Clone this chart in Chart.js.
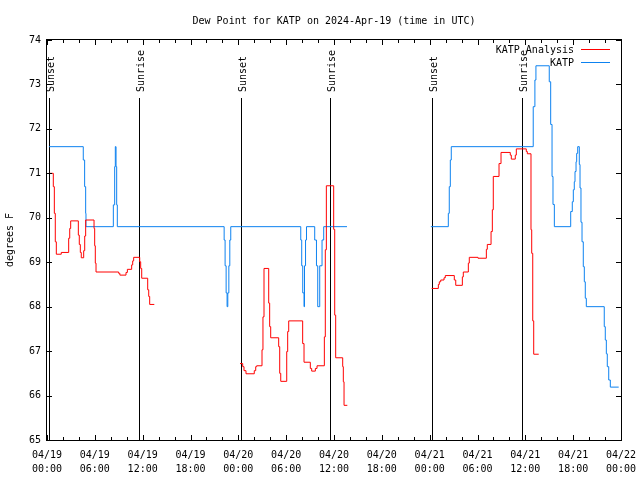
<!DOCTYPE html>
<html>
<head>
<meta charset="utf-8">
<script src="https://cdn.jsdelivr.net/npm/chart.js@4.4.1/dist/chart.umd.min.js"></script>
<style>
  html, body { margin: 0; padding: 0; background: #fff; }
</style>
</head>
<body>
<canvas id="chart" width="640" height="480"></canvas>
<script>
// chart data (x = hours since 04/19 00:00 UTC)
const titleText = 'Dew Point for KATP on 2024-Apr-19 (time in UTC)';
const yTitle = 'degrees F';
const xTickLabels = [
  ['04/19', '00:00'], ['04/19', '06:00'], ['04/19', '12:00'], ['04/19', '18:00'],
  ['04/20', '00:00'], ['04/20', '06:00'], ['04/20', '12:00'], ['04/20', '18:00'],
  ['04/21', '00:00'], ['04/21', '06:00'], ['04/21', '12:00'], ['04/21', '18:00'],
  ['04/22', '00:00']
];
const sunLabels = ['Sunset', 'Sunrise', 'Sunset', 'Sunrise', 'Sunset', 'Sunrise'];
const sunHours = [0.29, 11.58, 24.37, 35.54, 48.33, 59.62];

const analysisHours = [
  0.29, 0.79, 0.92, 1.04, 1.17, 1.79, 2.72, 2.85, 2.97, 3.93, 4.05, 4.18, 4.3, 4.6, 4.73, 4.85,
  5.9, 5.98, 6.06, 6.15, 8.99, 9.14, 9.91, 10.08, 10.62, 10.75, 10.87, 11.63, 11.75, 11.88,
  12.63, 12.76, 12.88, 13.46, 14,
  24.21, 24.55, 24.71, 24.96, 26.0, 26.18, 26.3, 26.97, 27.09, 27.22, 27.81, 27.93, 28.06,
  29.06, 29.19, 29.32, 30.07, 30.19, 30.32, 32.07, 32.24, 33.03, 33.2, 33.66, 33.87, 34.79,
  34.91, 35.04, 35.96, 36.09, 36.21, 37.09, 37.17, 37.26, 37.67, 38,
  48.25, 49.09, 49.21, 49.39, 49.8, 49.96, 51.09, 51.27, 52.1, 52.22, 52.85, 52.97, 54.06,
  55.11, 55.23, 55.7, 55.86, 55.98, 56.7, 56.95, 58.11, 58.24, 58.74, 58.87, 60.12, 60.25,
  60.71, 60.8, 60.93, 61.05, 61.68
];
const analysisValues = [
  71.0, 70.7, 70.1, 69.46, 69.18, 69.22, 69.54, 69.76, 69.93, 69.61, 69.4, 69.22, 69.1, 69.26, 69.59, 69.95,
  69.76, 69.37, 68.98, 68.78, 68.75, 68.71, 68.77, 68.84, 68.94, 69.03, 69.11, 69.01, 68.86, 68.64,
  68.38, 68.23, 68.05, 68.05, null,
  66.72, 66.65, 66.56, 66.49, 66.56, 66.65, 66.67, 67.03, 67.77, 68.86, 68.08, 67.55, 67.3,
  67.1, 66.5, 66.32, 66.99, 67.44, 67.68, 67.17, 66.75, 66.61, 66.55, 66.61, 66.67, 67.32,
  69.28, 70.72, 69.74, 67.81, 66.85, 66.65, 66.31, 65.78, 65.78, null,
  68.41, 68.5, 68.56, 68.6, 68.65, 68.7, 68.6, 68.48, 68.67, 68.78, 68.98, 69.11, 69.09,
  69.29, 69.4, 69.69, 70.18, 70.93, 71.22, 71.47, 71.41, 71.32, 71.41, 71.55, 71.49, 71.44,
  69.73, 69.2, 67.68, 66.93, 66.93
];

const katpHours = [
  0.25, 4.55, 4.72, 4.85, 4.89, 8.32, 8.49, 8.57, 8.66, 8.74, 8.82,
  22.22, 22.34, 22.47, 22.59, 22.68, 22.81, 22.93, 23.05,
  31.83, 31.95, 32.08, 32.24, 32.3, 32.43, 32.55,
  33.58, 33.8, 33.96, 34.21, 34.5, 34.71, 37.63, 38,
  48.15, 50.34, 50.46, 50.59, 50.71, 60.99, 61.2, 61.33, 63.0, 63.18, 63.35, 63.47, 63.64,
  65.69, 65.89, 66.02, 66.14, 66.23, 66.36, 66.44, 66.57, 66.77, 66.86, 66.98, 67.11, 67.27,
  67.4, 67.52, 67.65, 69.9, 70.03, 70.16, 70.28, 70.46, 70.66, 71.71
];
const katpValues = [
  71.6, 71.3, 70.7, 70.1, 69.8, 70.29, 71.15, 71.6, 71.15, 70.29, 69.8,
  69.5, 68.92, 68.31, 68.0, 68.31, 68.92, 69.5, 69.8,
  69.5, 68.92, 68.31, 68.0, 68.92, 69.5, 69.8,
  69.5, 68.92, 68.0, 68.92, 69.5, 69.8, 69.8, null,
  69.8, 70.1, 70.7, 71.3, 71.6, 72.5, 73.1, 73.42, 73.06, 72.1, 70.93, 70.3, 69.8,
  70.14, 70.36, 70.63, 70.81, 71.04, 71.26, 71.45, 71.6, 71.2, 70.67, 69.9, 69.46, 68.9,
  68.56, 68.19, 68.0, 67.55, 67.25, 66.94, 66.65, 66.35, 66.19, 66.19
];

const FONT = '"DejaVu Sans Mono", "Liberation Mono", monospace';
const RED = '#ff0000';
const BLUE = '#0d82f0';

function toPoints(hours, values) {
  return hours.map((h, i) => ({ x: h, y: values[i] }));
}

const decorPlugin = {
  id: 'decor',
  beforeDatasetsDraw(chart) {
    const { ctx, chartArea: a, scales: { x } } = chart;
    ctx.save();
    ctx.strokeStyle = '#000';
    ctx.fillStyle = '#000';
    ctx.lineWidth = 1;
    ctx.font = '10px ' + FONT;
    sunHours.forEach((h, i) => {
      const px = Math.round(x.getPixelForValue(h)) + 0.5;
      ctx.beginPath();
      ctx.moveTo(px, a.top + 58);
      ctx.lineTo(px, a.bottom);
      ctx.stroke();
      ctx.save();
      ctx.translate(px + 2, a.top + 52);
      ctx.rotate(-Math.PI / 2);
      ctx.textAlign = 'left';
      ctx.textBaseline = 'middle';
      ctx.fillText(sunLabels[i], 0, 0);
      ctx.restore();
    });
    ctx.restore();
  },
  afterDraw(chart) {
    const { ctx, chartArea: a, scales: { x, y } } = chart;
    ctx.save();
    ctx.strokeStyle = '#000';
    ctx.fillStyle = '#000';
    ctx.lineWidth = 1;

    // border
    ctx.strokeRect(a.left - 0.5, a.top - 0.5, a.right - a.left + 1, a.bottom - a.top + 1);

    // inward ticks, mirrored
    ctx.beginPath();
    for (let v = 65; v <= 74; v++) {
      const py = Math.round(y.getPixelForValue(v)) + 0.5;
      ctx.moveTo(a.left, py); ctx.lineTo(a.left + 5, py);
      ctx.moveTo(a.right, py); ctx.lineTo(a.right - 5, py);
    }
    for (let h = 0; h <= 72; h += 2) {
      const px = Math.round(x.getPixelForValue(h)) + 0.5;
      const len = h % 6 === 0 ? 5 : 3;
      ctx.moveTo(px, a.bottom); ctx.lineTo(px, a.bottom - len);
      ctx.moveTo(px, a.top); ctx.lineTo(px, a.top + len);
    }
    ctx.stroke();

    ctx.font = '10px ' + FONT;
    // title
    ctx.textAlign = 'center';
    ctx.textBaseline = 'middle';
    ctx.fillText(titleText, (a.left + a.right) / 2, 21);

    // y axis title
    ctx.save();
    ctx.translate(10, (a.top + a.bottom) / 2);
    ctx.rotate(-Math.PI / 2);
    ctx.fillText(yTitle, 0, 0);
    ctx.restore();

    // legend
    const items = [['KATP Analysis', RED], ['KATP', BLUE]];
    items.forEach(([label, color], i) => {
      const ly = a.top + 10 + i * 13;
      ctx.fillStyle = '#000';
      ctx.textAlign = 'right';
      ctx.fillText(label, a.right - 47, ly);
      ctx.strokeStyle = color;
      ctx.beginPath();
      ctx.moveTo(a.right - 40, Math.round(ly) - 0.5);
      ctx.lineTo(a.right - 11, Math.round(ly) - 0.5);
      ctx.stroke();
    });
    ctx.restore();
  }
};

new Chart(document.getElementById('chart').getContext('2d'), {
  type: 'line',
  data: {
    datasets: [
      {
        label: 'KATP Analysis',
        data: toPoints(analysisHours, analysisValues),
        borderColor: RED,
        borderWidth: 1,
        stepped: true,
        spanGaps: false,
        pointRadius: 0
      },
      {
        label: 'KATP',
        data: toPoints(katpHours, katpValues),
        borderColor: BLUE,
        borderWidth: 1,
        stepped: true,
        spanGaps: false,
        pointRadius: 0
      }
    ]
  },
  options: {
    responsive: false,
    animation: false,
    layout: { padding: { top: 40, right: 19, bottom: 0, left: 0 } },
    plugins: {
      legend: { display: false },
      tooltip: { enabled: false },
      title: { display: false }
    },
    scales: {
      x: {
        type: 'linear',
        min: 0,
        max: 72,
        grid: { display: false, drawTicks: false },
        border: { display: false },
        ticks: {
          stepSize: 6,
          autoSkip: false,
          maxRotation: 0,
          padding: 8,
          color: '#000',
          font: { family: FONT, size: 10, lineHeight: 1.4 },
          callback: v => xTickLabels[Math.round(v / 6)]
        },
        afterFit(s) {
          s.height = 40;
          s.paddingLeft = 0;
          s.paddingRight = 0;
        }
      },
      y: {
        min: 65,
        max: 74,
        grid: { display: false, drawTicks: false },
        border: { display: false },
        ticks: {
          stepSize: 1,
          padding: 6,
          color: '#000',
          font: { family: FONT, size: 10 }
        },
        afterFit(s) {
          s.width = 47;
          s.paddingTop = 0;
          s.paddingBottom = 0;
        }
      }
    }
  },
  plugins: [decorPlugin]
});
</script>
</body>
</html>
